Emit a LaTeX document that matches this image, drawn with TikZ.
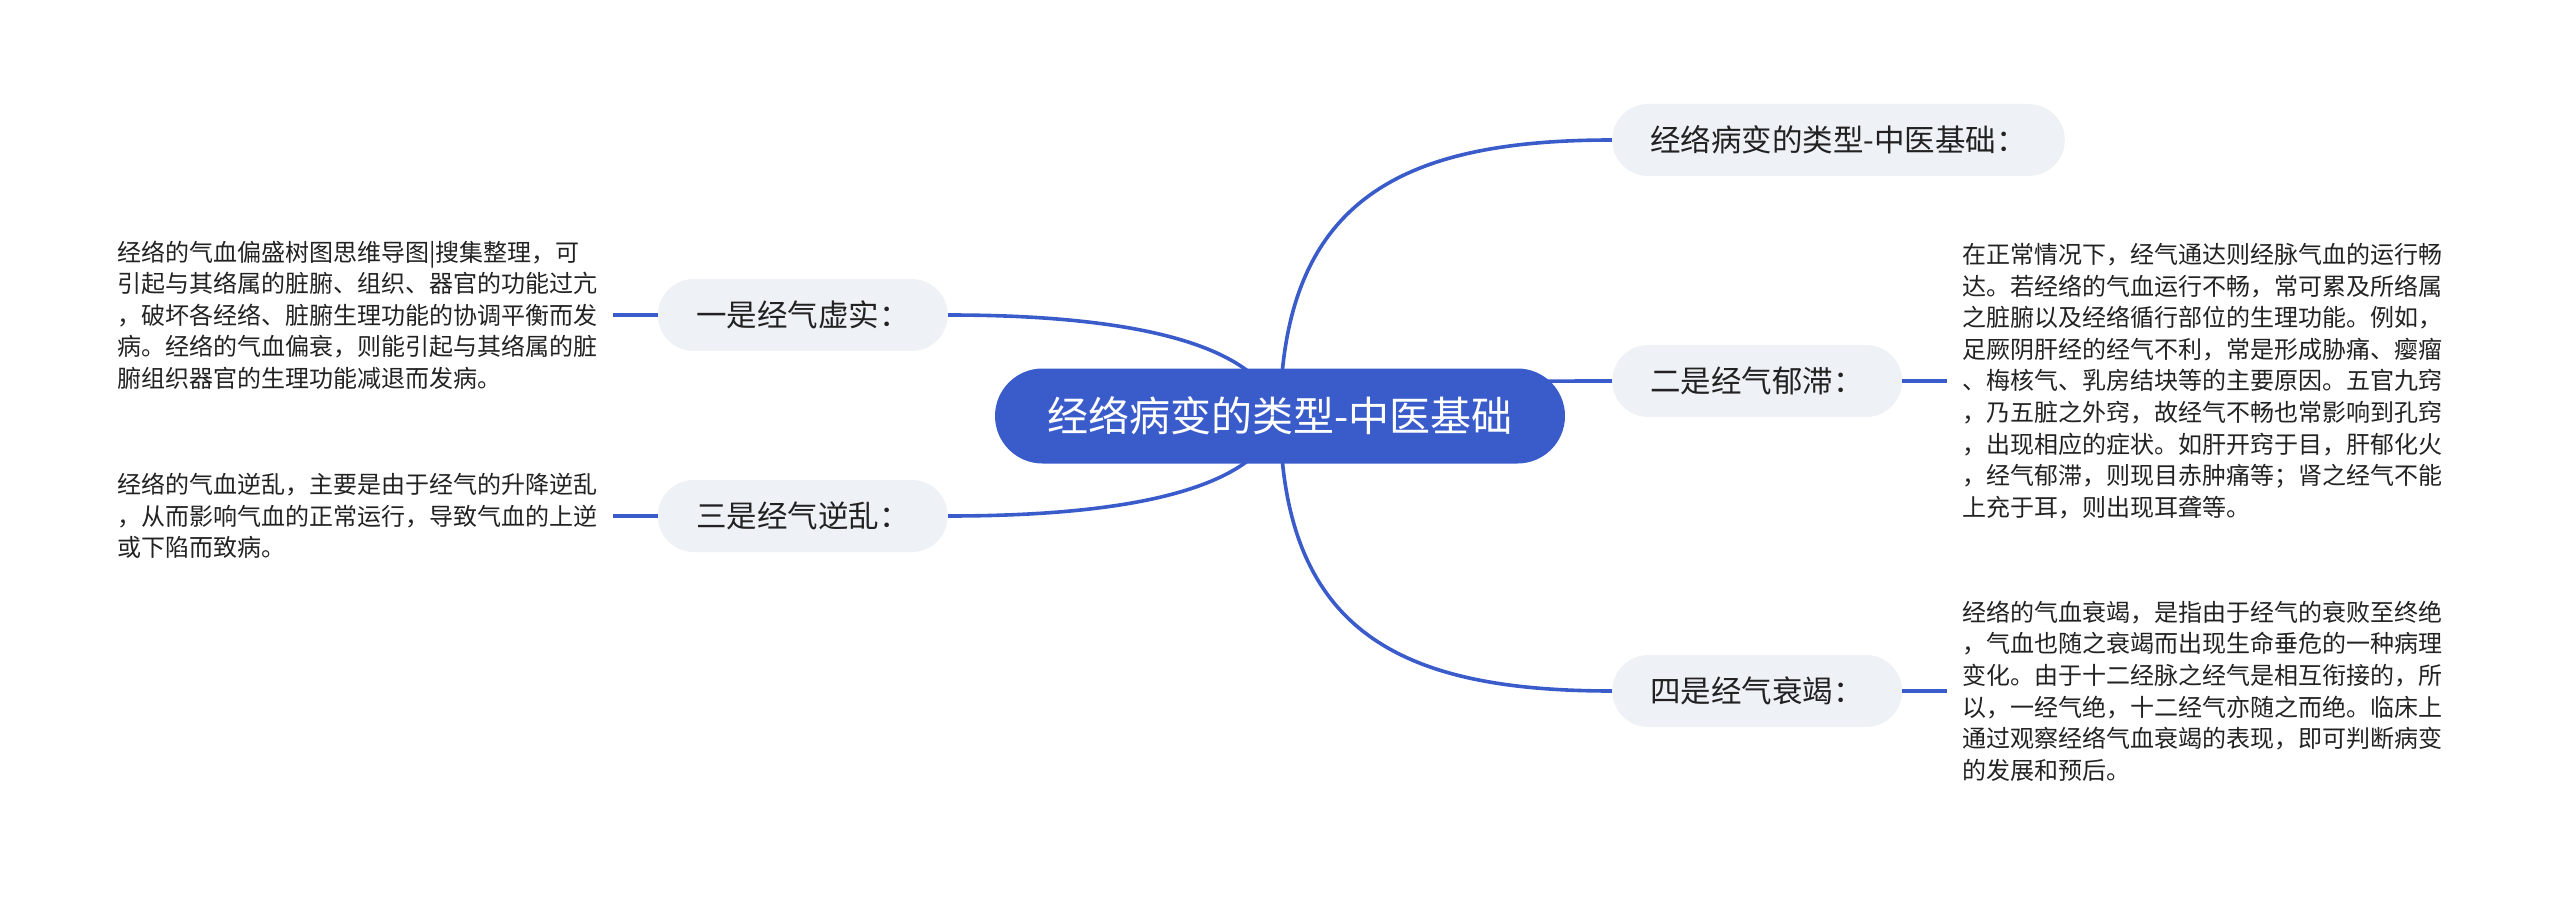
\documentclass[tikz,border=0pt]{standalone}
\usepackage{fontspec}
\setmainfont{Noto Sans CJK SC}
\usepackage{xcolor}
\usepackage{tikz}
\usetikzlibrary{positioning,backgrounds}

\definecolor{rootblue}{HTML}{3A5CCB}
\definecolor{topicgray}{HTML}{EEF1F5}
\definecolor{inkdark}{HTML}{222222}

\tikzset{
  rootbox/.style={rectangle, rounded corners=47.5pt, minimum width=570pt, minimum height=95pt,
    fill=rootblue, text=white, font=\fontsize{41}{45}\selectfont},
  topic/.style={rectangle, rounded corners=36pt, minimum width=290pt, minimum height=72pt,
    inner xsep=38pt, fill=topicgray, text=inkdark, font=\fontsize{30.5}{34}\selectfont},
  note/.style={align=left, inner xsep=15pt, inner ysep=4pt, text=inkdark,
    font=\fontsize{24}{31.6}\selectfont},
  branch/.style={draw=rootblue, line width=3.6pt},
  twig/.style={draw=rootblue, line width=3.6pt},
}

\begin{document}
\begin{tikzpicture}[x=1pt, y=-1pt, node distance=45pt]
    \useasboundingbox (0,0) rectangle (2560,901);

    % Root
    \node[rootbox] (root) at (1280,416) {经络病变的类型-中医基础};

    % Right side topics
    \node[topic, anchor=west] (title) at (1612,140) {经络病变的类型-中医基础：};
    \node[topic, anchor=west] (yuzhi) at (1612,381) {二是经气郁滞：};
    \node[topic, anchor=west] (shuaijie) at (1612,691) {四是经气衰竭：};

    % Left side topics
    \node[topic, anchor=east] (xushi) at (948,315) {一是经气虚实：};
    \node[topic, anchor=east] (niluan) at (948,516) {三是经气逆乱：};

    % Notes
    \node[note, left=of xushi] (xushinote) {经络的气血偏盛树图思维导图|搜集整理，可\\
      引起与其络属的脏腑、组织、器官的功能过亢\\
      ，破坏各经络、脏腑生理功能的协调平衡而发\\
      病。经络的气血偏衰，则能引起与其络属的脏\\
      腑组织器官的生理功能减退而发病。};
    \node[note, left=of niluan] (niluannote) {经络的气血逆乱，主要是由于经气的升降逆乱\\
      ，从而影响气血的正常运行，导致气血的上逆\\
      或下陷而致病。};
    \node[note, right=of yuzhi] (yuzhinote) {在正常情况下，经气通达则经脉气血的运行畅\\
      达。若经络的气血运行不畅，常可累及所络属\\
      之脏腑以及经络循行部位的生理功能。例如，\\
      足厥阴肝经的经气不利，常是形成胁痛、瘿瘤\\
      、梅核气、乳房结块等的主要原因。五官九窍\\
      ，乃五脏之外窍，故经气不畅也常影响到孔窍\\
      ，出现相应的症状。如肝开窍于目，肝郁化火\\
      ，经气郁滞，则现目赤肿痛等；肾之经气不能\\
      上充于耳，则出现耳聋等。};
    \node[note, right=of shuaijie] (shuaijienote) {经络的气血衰竭，是指由于经气的衰败至终绝\\
      ，气血也随之衰竭而出现生命垂危的一种病理\\
      变化。由于十二经脉之经气是相互衔接的，所\\
      以，一经气绝，十二经气亦随之而绝。临床上\\
      通过观察经络气血衰竭的表现，即可判断病变\\
      的发展和预后。};

    % Branches
    \begin{scope}[on background layer]
        \draw[branch] (root.center) .. controls (1282,200) and (1400,140) .. (title.west);
        \draw[branch] (root.center) .. controls (1400,381) and (1500,381) .. (yuzhi.west);
        \draw[branch] (root.center) .. controls (1282,632) and (1400,691) .. (shuaijie.west);
        \draw[branch] (root.center) .. controls (1260,340) and (1120,315) .. (xushi.east);
        \draw[branch] (root.center) .. controls (1260,492) and (1120,516) .. (niluan.east);
    \end{scope}

    % Note links
    \draw[twig] (xushi.west) -- (xushinote.east);
    \draw[twig] (niluan.west) -- (niluannote.east);
    \draw[twig] (yuzhi.east) -- (yuzhinote.west);
    \draw[twig] (shuaijie.east) -- (shuaijienote.west);
\end{tikzpicture}
\end{document}
